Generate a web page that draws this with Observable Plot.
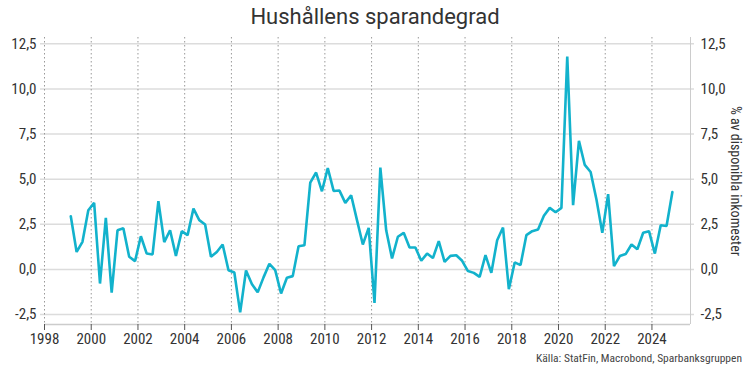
<!DOCTYPE html>
<html><head><meta charset="utf-8">
<script src="https://cdn.jsdelivr.net/npm/d3@7"></script>
<script src="https://cdn.jsdelivr.net/npm/@observablehq/plot@0.6"></script>
<style>
body{margin:0;background:#fff;}
#wrap{width:750px;height:376px;position:relative;overflow:hidden;font-family:"Liberation Sans Narrow","Roboto Condensed",Roboto,sans-serif;}
#title{height:30px;line-height:34px;text-align:center;font-size:22px;color:#333;font-family:Roboto,sans-serif;}
#chart svg{display:block;}
#caption{position:absolute;right:8px;top:351px;font-size:11.5px;color:#444;}
</style></head>
<body>
<div id="wrap">
<div id="title">Hushållens sparandegrad</div>
<div id="chart"></div>
<div id="caption">Källa: StatFin, Macrobond, Sparbanksgruppen</div>
</div>
<script>
const firstYear = 1999;
const savingsRate = [
 2.95, 0.97, 1.53, 3.28, 3.69, -0.78, 2.86, -1.29, 2.17, 2.28, 0.70, 0.46, 1.84, 0.88, 0.83, 3.78, 1.51, 2.17,
 0.75, 2.12, 1.90, 3.37, 2.73, 2.49, 0.70, 0.97, 1.38, -0.04, -0.17, -2.38, -0.06, -0.81, -1.27, -0.44, 0.31, -0.04,
 -1.33, -0.46, -0.37, 1.29, 1.34, 4.81, 5.37, 4.33, 5.62, 4.35, 4.37, 3.69, 4.11, 2.73, 1.38, 2.30, -1.85, 5.64,
 2.17, 0.61, 1.81, 2.03, 1.22, 1.22, 0.48, 0.88, 0.63, 1.57, 0.42, 0.75, 0.79, 0.48, -0.09, -0.19, -0.41, 0.79,
 -0.19, 1.62, 2.32, -1.09, 0.39, 0.24, 1.90, 2.12, 2.21, 2.97, 3.41, 3.17, 3.41, 11.80, 3.56, 7.12, 5.79, 5.40,
 3.87, 2.03, 4.17, 0.18, 0.74, 0.85, 1.38, 1.12, 2.03, 2.12, 0.88, 2.45, 2.41, 4.29
];
const yTicks = [-2.5, 0, 2.5, 5, 7.5, 10, 12.5];
const xTicks = [1998, 2000, 2002, 2004, 2006, 2008, 2010, 2012, 2014, 2016, 2018, 2020, 2022, 2024];
const yLabel = "% av disponibla inkomester";

const data = savingsRate.map((v, i) => ({t: firstYear + Math.floor(i / 4) + ((i % 4) + 0.5) / 4, v}));
const xDomain = [1998, 2025.65];
const yDomain = [-3.05, 12.85];
const fmt = d => d.toFixed(1).replace(".", ",");

const chart = Plot.plot({
  width: 750,
  height: 320,
  marginTop: 7,
  marginBottom: 26,
  marginLeft: 44,
  marginRight: 60,
  style: {fontFamily: '"Liberation Sans Narrow","Roboto Condensed",Roboto,sans-serif', fontSize: "15px", color: "#333", background: "#fff"},
  x: {domain: xDomain},
  y: {domain: yDomain},
  marks: [
    Plot.ruleY(yTicks, {stroke: "#dcdcdc", strokeWidth: 1.5, insetLeft: -4, insetRight: -4}),
    Plot.ruleX(xTicks, {stroke: "#999", strokeWidth: 1, strokeDasharray: "1.5,2.5"}),
    Plot.ruleX([xDomain[1]], {stroke: "#ccc", strokeWidth: 1}),
    Plot.ruleY([yDomain[0]], {stroke: "#ccc", strokeWidth: 1.5}),
    Plot.axisX({ticks: xTicks, tickFormat: d => String(d), tickSize: 6, stroke: "#555", tickPadding: 3, label: null, fontSize: 15}),
    Plot.axisY({anchor: "left", ticks: yTicks, tickFormat: fmt, tickSize: 0, tickPadding: 8, label: null, fontSize: 15}),
    Plot.axisY({anchor: "right", ticks: yTicks, tickFormat: fmt, tickSize: 0, tickPadding: 10, label: null, fontSize: 15}),
    Plot.text([yLabel], {text: d => d, frameAnchor: "right", rotate: 90, dx: 45, textAnchor: "middle", fontSize: 14, fill: "#333"}),
    Plot.line(data, {x: "t", y: "v", stroke: "#12b2cc", strokeWidth: 2.6, strokeLinejoin: "miter"})
  ]
});
document.getElementById("chart").appendChild(chart);
</script>
</body></html>
